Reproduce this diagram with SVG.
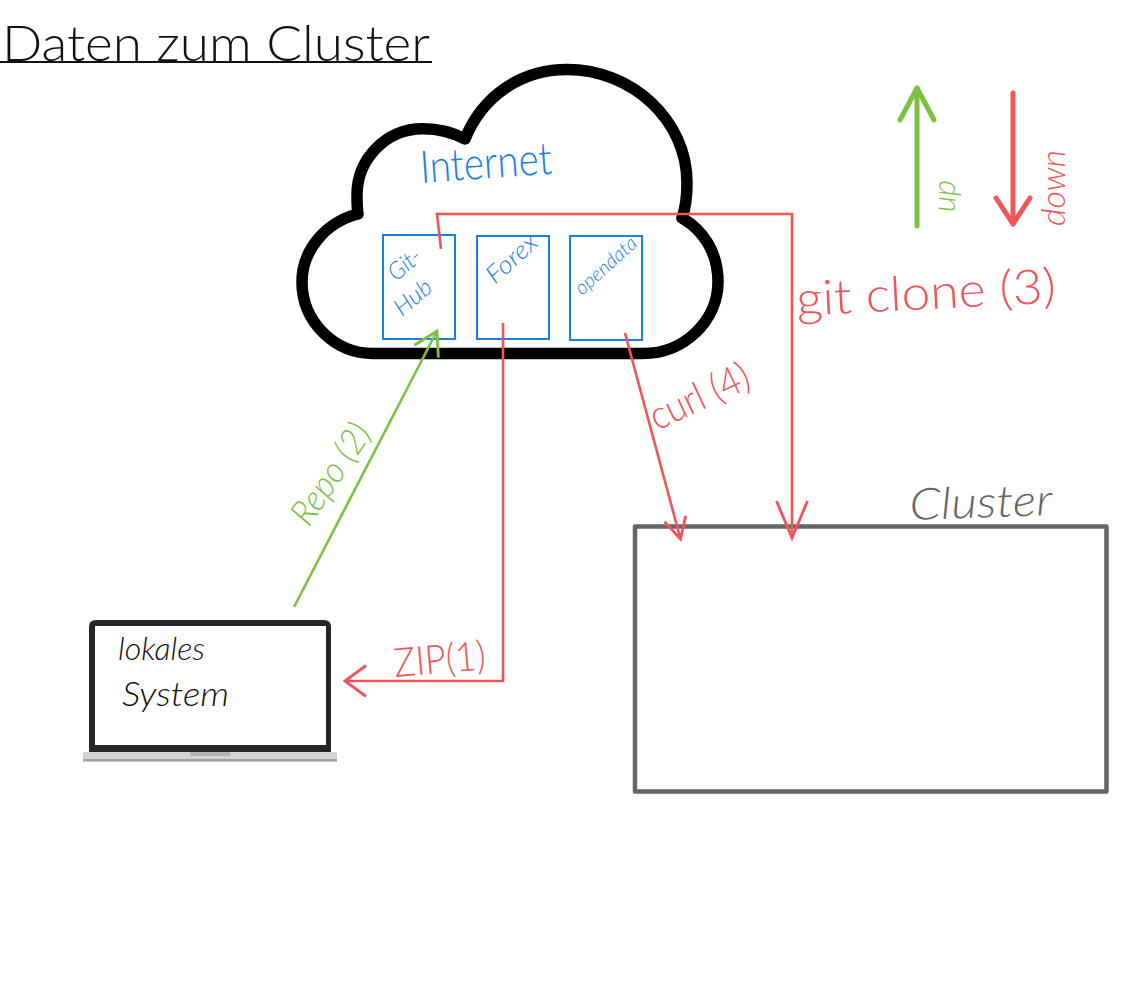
<svg xmlns="http://www.w3.org/2000/svg" width="1122" height="1000" viewBox="0 0 1122 1000">
  <style>
    text { font-family: "Lato", "Open Sans", "Liberation Sans", sans-serif; font-weight: 300; }
    .it { font-style: italic; }
    .reg { font-weight: 400; }
    .red { fill: #ef5658; }
    .green { fill: #7cc242; }
    .blue { fill: #1a7fe3; }
    .ink { fill: #111111; }
    .grey { fill: #666666; }
    .box { fill: #ffffff; stroke: #1a7fe3; stroke-width: 2; }
    .wire { fill: none; stroke-width: 2.6; stroke-linejoin: miter; }
    .wred { stroke: #ef5658; }
    .wgreen { stroke: #7cc242; }
    .leg { fill: none; stroke-width: 5; stroke-linecap: round; stroke-linejoin: round; }
  </style>
  <defs>
    <marker id="hZip" markerUnits="userSpaceOnUse" markerWidth="30" markerHeight="40" viewBox="0 -20 30 40" refX="24" refY="0" orient="auto"><path d="M3 -15.5L24 0L3 15.5" fill="none" stroke="#ef5658" stroke-width="2.8"/></marker>
    <marker id="hCurl" markerUnits="userSpaceOnUse" markerWidth="30" markerHeight="40" viewBox="0 -20 30 40" refX="24" refY="0" orient="auto"><path d="M3 -11L24 0L3 11" fill="none" stroke="#ef5658" stroke-width="2.8"/></marker>
    <marker id="hGit" markerUnits="userSpaceOnUse" markerWidth="46" markerHeight="40" viewBox="0 -20 46 40" refX="40" refY="0" orient="auto"><path d="M3 -15.5L40 0L3 15.5" fill="none" stroke="#ef5658" stroke-width="2.8"/></marker>
    <marker id="hRepo" markerUnits="userSpaceOnUse" markerWidth="30" markerHeight="40" viewBox="0 -20 30 40" refX="26" refY="0" orient="auto"><path d="M3 -13.5L26 0L3 13.5" fill="none" stroke="#7cc242" stroke-width="2.8"/></marker>
    <marker id="hUp" markerUnits="userSpaceOnUse" markerWidth="44" markerHeight="50" viewBox="0 -25 44 50" refX="36" refY="0" orient="auto"><path d="M4 -17L36 0L4 17" fill="none" stroke="#7cc242" stroke-width="5" stroke-linecap="round" stroke-linejoin="round"/></marker>
    <marker id="hDown" markerUnits="userSpaceOnUse" markerWidth="44" markerHeight="50" viewBox="0 -25 44 50" refX="30" refY="0" orient="auto"><path d="M4 -17L30 0L4 17" fill="none" stroke="#ef5658" stroke-width="5" stroke-linecap="round" stroke-linejoin="round"/></marker>
  </defs>
  <rect width="1122" height="1000" fill="#ffffff"/>

  <g id="title">
    <text class="ink" x="2" y="61" font-size="50" textLength="428" lengthAdjust="spacingAndGlyphs">Daten zum Cluster</text>
    <line x1="0" y1="62" x2="432" y2="62" stroke="#111111" stroke-width="2"/>
  </g>

  <g id="legend-up">
    <text class="green it" transform="translate(955 212) rotate(-90)" font-size="32" textLength="32" lengthAdjust="spacingAndGlyphs">up</text>
  </g>
  <g id="legend-down">
    <text class="red it" transform="translate(1065 226) rotate(-90)" font-size="34" textLength="76" lengthAdjust="spacingAndGlyphs">down</text>
  </g>

  <g id="internet">
    <path d="M373 353.5H643C685 353.5 718 320 718 282C718 252 703 230 682 218C686 207 687 195 687 183C687 120 632 69.5 567 69.5C520 69.5 482 97 465 139C452 132 438 128.7 423 128.7C385 128.7 357 160 357 195C357 201 357 208 358 214C326 222 302 250 302 282C302 322 335 353.5 373 353.5Z" fill="#ffffff" stroke="#000000" stroke-width="11.5" stroke-linejoin="round"/>
    <text class="blue" transform="translate(421 183) rotate(-4)" font-size="45" textLength="132" lengthAdjust="spacingAndGlyphs">Internet</text>
  </g>

  <g id="github">
    <rect class="box" x="383" y="235" width="72" height="104"/>
    <text class="blue it" transform="translate(396 282) rotate(-40)" font-size="24" textLength="36" lengthAdjust="spacingAndGlyphs">Git-</text>
    <text class="blue it" transform="translate(402 317) rotate(-40)" font-size="24" textLength="42" lengthAdjust="spacingAndGlyphs">Hub</text>
  </g>
  <g id="forex">
    <rect class="box" x="477" y="236" width="72" height="103"/>
    <text class="blue it" transform="translate(495 285) rotate(-42)" font-size="25" textLength="60" lengthAdjust="spacingAndGlyphs">Forex</text>
  </g>
  <g id="opendata">
    <rect class="box" x="570" y="236" width="72" height="104"/>
    <text class="blue it" transform="translate(582 296) rotate(-42)" font-size="20" textLength="76" lengthAdjust="spacingAndGlyphs">opendata</text>
  </g>

  <g id="cluster">
    <rect x="635" y="526.5" width="471.500" height="265" fill="#ffffff" stroke="#666666" stroke-width="4.500" stroke-linejoin="round"/>
    <text class="grey it" transform="translate(910 520) rotate(-2)" font-size="44" textLength="143" lengthAdjust="spacingAndGlyphs">Cluster</text>
  </g>

  <g id="laptop">
    <path fill-rule="evenodd" fill="#262626" d="M96 620H324Q331 620 331 627V752H89V627Q89 620 96 620ZM95 626V745H326V626Z"/>
    <rect x="83" y="752" width="254" height="7" fill="#d4d4d4"/>
    <rect x="83" y="759" width="254" height="2.500" fill="#9e9e9e"/>
    <rect x="190" y="752" width="40" height="4" fill="#b4b4b4"/>
    <text class="ink it" x="118" y="660" font-size="31" textLength="87" lengthAdjust="spacingAndGlyphs">lokales</text>
    <text class="ink it" x="122" y="706" font-size="33" textLength="107" lengthAdjust="spacingAndGlyphs">System</text>
  </g>

  <g id="connectors">
    <path class="wire wred" d="M441 249L437 214H792V538" marker-end="url(#hGit)"/>
    <path class="wire wred" d="M503 323V681H345" marker-end="url(#hZip)"/>
    <path class="wire wred" d="M625 333L680.500 539" marker-end="url(#hCurl)"/>
    <path class="wire wgreen" d="M294 607L437 331" marker-end="url(#hRepo)"/>
    <path class="leg" d="M917 226V88" stroke="#7cc242" marker-end="url(#hUp)"/>
    <path class="leg" d="M1013 93V224" stroke="#ef5658" marker-end="url(#hDown)"/>
  </g>

  <g id="connector-labels">
    <text class="red" transform="translate(797 316) rotate(-3)" font-size="48" textLength="260" lengthAdjust="spacingAndGlyphs">git clone (3)</text>
    <text class="red" transform="translate(657 431) rotate(-25)" font-size="40" textLength="106" lengthAdjust="spacingAndGlyphs">curl (4)</text>
    <text class="green it" transform="translate(309 528) rotate(-56)" font-size="36" textLength="114" lengthAdjust="spacingAndGlyphs">Repo (2)</text>
    <text class="red" transform="translate(395 677) rotate(-5)" font-size="40" textLength="92" lengthAdjust="spacingAndGlyphs">ZIP(1)</text>
  </g>
</svg>
